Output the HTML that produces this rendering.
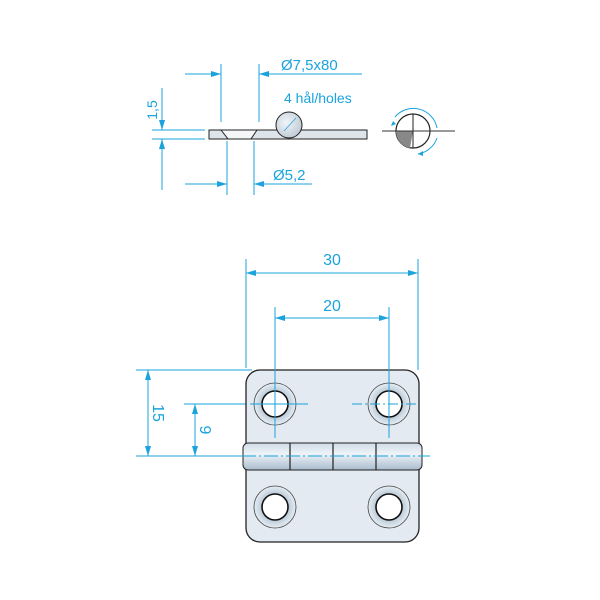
<!DOCTYPE html>
<html><head><meta charset="utf-8"><style>
html,body{margin:0;padding:0;background:#fff;width:600px;height:600px;overflow:hidden}
text{font-family:"Liberation Sans",sans-serif;fill:#1aa3dc}
</style></head><body>
<svg width="600" height="600" viewBox="0 0 600 600" xmlns="http://www.w3.org/2000/svg">
<defs>
<marker id="a" viewBox="0 0 10 6" refX="10" refY="3" markerWidth="10" markerHeight="6" orient="auto-start-reverse" markerUnits="userSpaceOnUse"><path d="M0,0L10,3L0,6z" fill="#1aa3dc"/></marker>
<linearGradient id="k" x1="0" y1="0" x2="0" y2="1"><stop offset="0" stop-color="#cfdbe6"/><stop offset="0.4" stop-color="#eef3f8"/><stop offset="1" stop-color="#a9bccd"/></linearGradient>
<radialGradient id="b" cx="0.4" cy="0.4" r="0.7"><stop offset="0" stop-color="#f2f5f8"/><stop offset="1" stop-color="#b9c6d2"/></radialGradient>
<radialGradient id="h" cx="0.5" cy="0.5" r="0.5"><stop offset="0.6" stop-color="#b8c8d6"/><stop offset="1" stop-color="#e6edf3"/></radialGradient>
</defs>
<g stroke="#1aa3dc" stroke-width="1" fill="none">
<line x1="185" y1="74" x2="221" y2="74" marker-end="url(#a)"/>
<line x1="362" y1="74" x2="259" y2="74" marker-end="url(#a)"/>
<line x1="221" y1="64" x2="221" y2="122"/><line x1="259" y1="64" x2="259" y2="122"/>
<line x1="185" y1="184" x2="227" y2="184" marker-end="url(#a)"/>
<line x1="312" y1="184" x2="254" y2="184" marker-end="url(#a)"/>
<line x1="227" y1="141" x2="227" y2="195"/><line x1="254" y1="141" x2="254" y2="195"/>
<line x1="162" y1="88" x2="162" y2="130" marker-end="url(#a)"/>
<line x1="162" y1="190" x2="162" y2="139" marker-end="url(#a)"/>
<line x1="152" y1="130" x2="205" y2="130"/><line x1="152" y1="139" x2="205" y2="139"/>
<line x1="246" y1="273" x2="418" y2="273" marker-start="url(#a)" marker-end="url(#a)"/>
<line x1="246" y1="259" x2="246" y2="368"/><line x1="418" y1="259" x2="418" y2="370"/>
<line x1="275" y1="318" x2="389" y2="318" marker-start="url(#a)" marker-end="url(#a)"/>
<line x1="148" y1="370" x2="148" y2="456" marker-start="url(#a)" marker-end="url(#a)"/>
<line x1="195" y1="404" x2="195" y2="456" marker-start="url(#a)" marker-end="url(#a)"/>
<line x1="136" y1="370" x2="252" y2="370"/>
<line x1="184" y1="404" x2="250" y2="404"/>
<line x1="136" y1="456" x2="242" y2="456"/>
</g>
<!-- top plate -->
<rect x="209" y="130" width="158" height="9" fill="#dde4ea" stroke="#222" stroke-width="1"/>
<path d="M222,130.5 L229,138.5 H251 L257,130.5 Z" fill="#f4f6f8" stroke="none"/>
<path d="M221,130 L228,139 M257,130 L251,139" stroke="#222" stroke-width="1" fill="none"/>
<circle cx="289" cy="125" r="13" fill="url(#b)" stroke="#222" stroke-width="1"/>
<line x1="284" y1="131" x2="296" y2="118" stroke="#1aa3dc" stroke-width="0.7"/>
<!-- rotation symbol -->
<circle cx="413" cy="131" r="17" fill="#fff" stroke="#222" stroke-width="1.2"/>
<path d="M413,131 H396 A17,17 0 0 0 410,148 Z" fill="#888"/>
<line x1="413" y1="114" x2="413" y2="148" stroke="#222"/>
<line x1="382" y1="131" x2="455" y2="131" stroke="#333"/>
<path d="M395,117 A24,24 0 0 1 437,128" fill="none" stroke="#1aa3dc"/>
<path d="M437,138 A24,24 0 0 1 418,154" fill="none" stroke="#1aa3dc"/>
<path d="M393,121 l-2,5 l5,-2z M418,154 l5,-3 l0,5z" fill="#1aa3dc"/>
<!-- hinge -->
<rect x="246" y="370" width="173" height="172" rx="14" fill="#e3eaf1" stroke="#222" stroke-width="1.3"/>
<rect x="243" y="443" width="179" height="27" rx="5" fill="url(#k)" stroke="#222" stroke-width="1"/>
<g stroke="#222" stroke-width="1.2"><line x1="290" y1="443" x2="290" y2="470"/><line x1="333" y1="443" x2="333" y2="470"/><line x1="376" y1="443" x2="376" y2="470"/></g>
<g stroke="#444" stroke-width="0.8">
<circle cx="275" cy="404" r="21" fill="url(#h)"/><circle cx="275" cy="404" r="13" fill="#fff" stroke="#111" stroke-width="1.6"/>
<circle cx="389" cy="404" r="21" fill="url(#h)"/><circle cx="389" cy="404" r="13" fill="#fff" stroke="#111" stroke-width="1.6"/>
<circle cx="275" cy="507" r="21" fill="url(#h)"/><circle cx="275" cy="507" r="13" fill="#fff" stroke="#111" stroke-width="1.6"/>
<circle cx="389" cy="507" r="21" fill="url(#h)"/><circle cx="389" cy="507" r="13" fill="#fff" stroke="#111" stroke-width="1.6"/>
</g>
<g stroke="#1aa3dc" stroke-width="1" fill="none">
<line x1="275" y1="307" x2="275" y2="438"/><line x1="389" y1="307" x2="389" y2="438"/>
<line x1="250" y1="404" x2="308" y2="404"/>
<line x1="352" y1="404" x2="418" y2="404" stroke-dasharray="10,3,2,3"/>
<line x1="242" y1="456" x2="430" y2="456" stroke-dasharray="14,3,2,3"/>
</g>
<text x="281" y="70" font-size="15">Ø7,5x80</text>
<text x="284" y="103" font-size="14">4 hål/holes</text>
<text x="273" y="180" font-size="15">Ø5,2</text>
<text transform="translate(157,110) rotate(-90)" font-size="14" text-anchor="middle">1,5</text>
<text x="332" y="265" font-size="16" text-anchor="middle">30</text>
<text x="332" y="311" font-size="16" text-anchor="middle">20</text>
<text transform="translate(153,413) rotate(90)" font-size="16" text-anchor="middle">15</text>
<text transform="translate(200,430) rotate(90)" font-size="16" text-anchor="middle">9</text>
</svg>
</body></html>
